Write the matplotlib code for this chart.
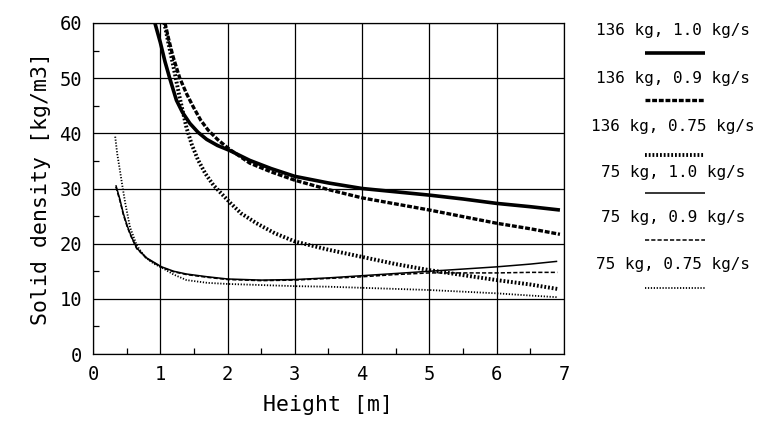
import matplotlib
matplotlib.use("Agg")
import matplotlib.pyplot as plt
from matplotlib.lines import Line2D

plt.rcParams["lines.scale_dashes"] = False
plt.rcParams["font.family"] = ["DejaVu Sans Mono"]

# 136 kg curves
h_136_10 = [0.92, 1.0, 1.07, 1.14, 1.24, 1.33, 1.44, 1.56, 1.69, 1.85, 2.03, 2.33, 2.65,
            3.0, 3.5, 4.0, 4.5, 5.0, 5.5, 6.0, 6.5, 6.94]
d_136_10 = [60, 56.5, 53.0, 50, 46.0, 43.8, 41.8, 40.2, 38.9, 37.8, 36.9, 35.1, 33.6,
            32.2, 31.0, 30.0, 29.4, 28.8, 28.1, 27.3, 26.7, 26.1]
h_136_09 = [1.07, 1.13, 1.19, 1.29, 1.39, 1.49, 1.6, 1.71, 1.85, 2.03, 2.33, 2.65,
            3.0, 3.5, 4.0, 4.5, 5.0, 5.5, 6.0, 6.5, 6.94]
d_136_09 = [60, 56.8, 53.9, 50, 47.2, 44.8, 42.4, 40.6, 38.9, 37.1, 34.6, 33.0,
            31.5, 29.8, 28.3, 27.2, 26.1, 24.9, 23.7, 22.7, 21.7]
h_136_075 = [1.06, 1.12, 1.18, 1.24, 1.29, 1.39, 1.47, 1.56, 1.67, 1.79, 2.04, 2.2, 2.43,
             2.7, 3.0, 3.5, 4.0, 4.5, 5.0, 5.5, 6.0, 6.5, 6.9]
d_136_075 = [60, 56.4, 53, 49.4, 46.4, 41.0, 37.9, 35.2, 32.7, 30.6, 27.4, 25.5, 23.7,
             21.9, 20.4, 18.9, 17.6, 16.3, 15.2, 14.3, 13.4, 12.6, 11.8]

# 75 kg curves
h_75_10 = [0.34, 0.4, 0.45, 0.51, 0.57, 0.65, 0.8, 1.02, 1.2, 1.39, 1.7, 2.0, 2.5,
           3.0, 3.5, 4.0, 4.5, 5.0, 5.5, 6.0, 6.5, 6.9]
d_75_10 = [30.6, 28.0, 25.5, 23.2, 21.3, 19.2, 17.4, 15.8, 15.0, 14.5, 14.0, 13.6, 13.4,
           13.5, 13.8, 14.2, 14.6, 15.0, 15.4, 15.8, 16.3, 16.8]
h_75_09 = [0.34, 0.4, 0.45, 0.51, 0.57, 0.65, 0.8, 1.02, 1.2, 1.39, 1.7, 2.0, 2.5,
           3.0, 3.5, 4.0, 4.5, 5.0, 5.5, 6.0, 6.5, 6.9]
d_75_09 = [30.3, 27.8, 25.3, 23.0, 21.2, 19.1, 17.3, 15.7, 14.9, 14.4, 13.9, 13.5, 13.3,
           13.4, 13.7, 14.0, 14.4, 14.7, 14.7, 14.7, 14.8, 14.8]
h_75_075 = [0.33, 0.36, 0.4, 0.44, 0.48, 0.55, 0.65, 0.77, 0.9, 1.03, 1.2, 1.39, 1.7, 2.0,
            2.5, 3.0, 3.5, 4.0, 4.5, 5.0, 5.5, 6.0, 6.5, 6.9]
d_75_075 = [39.4, 36.3, 33.3, 30.2, 27.3, 23.0, 19.7, 17.6, 16.4, 15.6, 14.4, 13.4, 12.9, 12.7,
            12.5, 12.3, 12.2, 12.0, 11.8, 11.6, 11.3, 11.0, 10.6, 10.3]

labels = ["136 kg, 1.0 kg/s", "136 kg, 0.9 kg/s", "136 kg, 0.75 kg/s",
          "75 kg, 1.0 kg/s", "75 kg, 0.9 kg/s", "75 kg, 0.75 kg/s"]
series = [(h_136_10, d_136_10), (h_136_09, d_136_09), (h_136_075, d_136_075),
          (h_75_10, d_75_10), (h_75_09, d_75_09), (h_75_075, d_75_075)]
styles = [dict(lw=2.6, ls="-"),
          dict(lw=2.4, ls=(0, (3.5, 1.3))),
          dict(lw=2.8, ls=(0, (1.3, 1.4))),
          dict(lw=1.1, ls="-"),
          dict(lw=1.1, ls=(0, (3.0, 1.5))),
          dict(lw=1.3, ls=(0, (0.9, 1.2)))]

fig = plt.figure(figsize=(7.61, 4.21), dpi=100)
ax = fig.add_axes([0.1222, 0.1591, 0.6189, 0.7863])

for (xs, ys), st in zip(series, styles):
    ax.plot(xs, ys, color="black", solid_capstyle="butt", dash_capstyle="butt",
            solid_joinstyle="round", **st)

ax.set_xlim(0, 7); ax.set_ylim(0, 60)
ax.set_xticks(range(0, 8)); ax.set_yticks(range(0, 61, 10))
ax.set_xticks([i + 0.5 for i in range(7)], minor=True)
ax.set_yticks([i * 10 + 5 for i in range(6)], minor=True)
ax.grid(True, which="major", color="black", lw=0.9)
ax.tick_params(which="major", length=0, labelsize=13.5, pad=8)
ax.tick_params(which="minor", direction="in", length=4, width=0.9)
for s in ax.spines.values():
    s.set_linewidth(0.9)
ax.set_xlabel("Height [m]", fontsize=15.5, labelpad=8)
ax.set_ylabel("Solid density [kg/m3]", fontsize=15.5, labelpad=6)

# legend block at right: label above, line sample below
text_y = [30, 78, 126, 172, 218, 265]
line_y = [53, 100, 155, 193, 240, 288]
W, H = 761, 421
for lab, st, ty, ly in zip(labels, styles, text_y, line_y):
    fig.text(673 / W, 1 - ty / H, lab, ha="center", va="center", fontsize=11.5)
    fig.add_artist(Line2D([645 / W, 705 / W], [1 - ly / H, 1 - ly / H],
                          transform=fig.transFigure, color="black",
                          solid_capstyle="butt", dash_capstyle="butt", **st))

fig.savefig("out.png", dpi=100)
